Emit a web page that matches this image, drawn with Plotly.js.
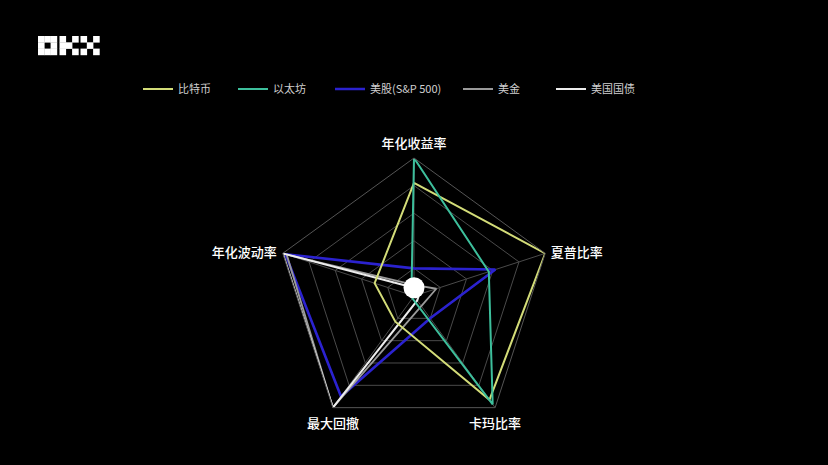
<!DOCTYPE html>
<html>
<head>
<meta charset="utf-8">
<script src="https://cdn.plot.ly/plotly-3.0.1.min.js"></script>
<style>html,body{margin:0;padding:0;background:#000;}#chart{width:828px;height:465px;}</style>
</head>
<body>
<div id="chart"></div>
<script>
// ---- data ----
const categories = ['年化收益率', '夏普比率', '卡玛比率', '最大回撤', '年化波动率'];
const seriesNames = ['比特币', '以太坊', '美股(S&P 500)', '美金', '美国国债'];
const btc  = [0.82, 1.00, 0.93, 0.23, 0.30];
const eth  = [1.00, 0.57, 0.97, 0.02, 0.02];
const spx  = [0.20, 0.62, 0.20, 0.90, 0.98];
const usd  = [0.08, 0.17, 0.09, 1.00, 0.97];
const bond = [0.06, 0.04, 0.04, 1.00, 1.00];
const dotR = [0.06];
const dotTheta = ['年化收益率'];
const labelR = [1, 1, 1, 1, 1];

// ---- styles ----
const colors = ['#d3dc78', '#3dbf9c', '#2b22cf', '#9a9a9a', '#ececec'];
const widths = [2, 2, 2.6, 1.8, 2];
const legendX = [138, 233, 330, 458, 551];
const labelPos = ['top center', 'middle right', 'bottom center', 'bottom center', 'middle left'];
const labelGap = [9, 7, 15, 15, 8];
const W = 828, H = 465;

const all = [btc, eth, spx, usd, bond];
const traces = all.map((vals, i) => ({
  type: 'scatterpolar',
  mode: 'lines',
  name: seriesNames[i],
  r: vals.concat([vals[0]]),
  theta: categories.concat([categories[0]]),
  line: {color: colors[i], width: widths[i]},
  legend: i === 0 ? 'legend' : 'legend' + (i + 1),
  hoverinfo: 'skip'
}));
const ordered = [traces[2], traces[3], traces[4], traces[0], traces[1]];
ordered.push({
  type: 'scatterpolar', mode: 'markers', r: dotR, theta: dotTheta,
  marker: {color: '#ffffff', size: 21, line: {width: 0}}, showlegend: false, hoverinfo: 'skip'
});
ordered.push({
  type: 'scatterpolar', mode: 'markers+text', r: labelR, theta: categories,
  text: categories, textposition: labelPos, cliponaxis: false,
  marker: {size: labelGap, color: 'rgba(0,0,0,0)', line: {width: 0, color: 'rgba(0,0,0,0)'}},
  textfont: {color: '#ffffff', size: 13, family: 'Noto Sans CJK SC', weight: 500},
  showlegend: false, hoverinfo: 'skip'
});

const legends = {};
legendX.forEach((lx, i) => {
  legends[i === 0 ? 'legend' : 'legend' + (i + 1)] = {
    x: lx / W, y: 1 - 89 / H, xanchor: 'left', yanchor: 'middle',
    orientation: 'h', bgcolor: 'rgba(0,0,0,0)',
    font: {color: '#d0d0d0', size: 11, family: 'Noto Sans CJK SC'},
    itemwidth: 30
  };
});

// OKX logo built from square cells (decoration)
const shapes = [];
function cell(x0, y0, x1, y1, c) {
  shapes.push({type: 'rect', xref: 'paper', yref: 'paper',
    x0: x0 / W, x1: x1 / W, y0: 1 - y1 / H, y1: 1 - y0 / H,
    fillcolor: c, line: {width: 0}, layer: 'above'});
}
const lg = {top: 36, size: 6.3};
const letterX = [38, 59.5, 80.5];
const patterns = [
  [[0,0],[1,0],[2,0],[0,1],[2,1],[0,2],[1,2],[2,2]],
  [[0,0],[0,1],[0,2],[1,1],[2,0],[2,2]],
  [[0,0],[2,0],[1,1],[0,2],[2,2]]
];
patterns.forEach((p, li) => {
  p.forEach(([cx, cy]) => {
    const x0 = letterX[li] + cx * lg.size, y0 = lg.top + cy * lg.size;
    cell(x0, y0, x0 + lg.size + 0.3, y0 + lg.size + 0.3, '#ffffff');
  });
});

const layout = Object.assign({
  width: W, height: H,
  margin: {l: 0, r: 0, t: 0, b: 0},
  paper_bgcolor: '#000000',
  plot_bgcolor: '#000000',
  font: {family: 'Noto Sans CJK SC', color: '#ffffff'},
  polar: {
    bgcolor: '#000000',
    domain: {x: [276 / W, 552 / W], y: [31 / H, 307 / H]},
    gridshape: 'linear',
    radialaxis: {range: [0, 1], dtick: 0.2, showticklabels: false, ticks: '',
      showline: false, gridcolor: '#4a4a4a', gridwidth: 1},
    angularaxis: {rotation: 90, direction: 'clockwise', gridcolor: '#4a4a4a',
      linecolor: '#555555', linewidth: 1, ticks: '', showticklabels: false}
  },
  shapes: shapes
}, legends);

Plotly.newPlot('chart', ordered, layout, {displayModeBar: false, staticPlot: true});
</script>
</body>
</html>
